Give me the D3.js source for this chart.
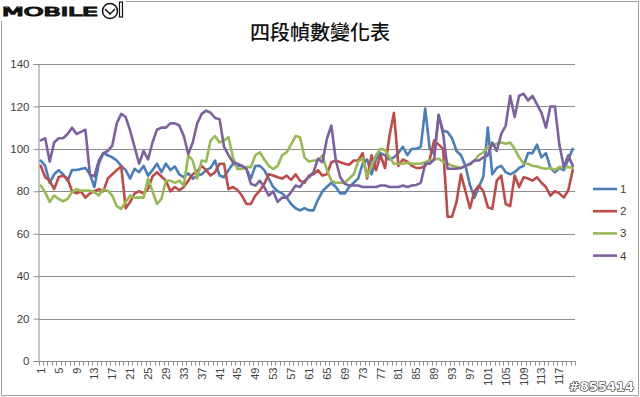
<!DOCTYPE html>
<html>
<head>
<meta charset="utf-8">
<script src="https://cdn.jsdelivr.net/npm/d3@7"></script>
<style>
body { margin: 0; background: #fff; }
svg { display: block; }
</style>
</head>
<body>
<script>
//series values, index 1..120
var series1 = [94.5,92,84,88,90,88,85,90,90,90.5,91,88,82,93,98,97,96,94.5,92,90,
  86,90.6,89,92,87.4,90,93,89,93,90,91.7,88,86.6,88.5,86,87.4,88,90,91,94.5,
  87.4,86.6,90,93,92,92,90.6,86,92,92,90,86,82,80,79,77,74,72,71,72,
  71,71,76,80,82,84,82,79,79,82,84,86,93,95,88,95,98,97,95,96,
  98,101,97,100,100,101,119,100,97.6,115.7,108.5,108,105,99,97,92,83,77,82,87,
  110,88,91,92,89,88,89,91,92,98,98,102,96,98,91,89,91,90,95,100];
var series2 = [92,86.6,85,81,86.6,87.4,86,80,79,80,77,79,80,81,80,86,88,90,91.7,72,
  75,79,80,79,81,87,89,87,85,80,82,80.5,82,85,88,89.5,92,90,87.4,89,
  93,93,81,82,80.6,78,74,74,78,80.3,83.5,88,87.4,86.6,86,87.4,85.4,88,85,84,
  87.4,88,90,87.4,88,93.7,94.5,93.7,93,92.5,94.5,94.5,98,86,97,90,97,91,106,117,
  92,95,94,92,91,91,92,95,104,102,100,68,68,75,88,80,72,80,82.7,80,
  72.5,71.7,85,87.4,74,73,87.4,82,86.6,86,85,86.6,84,82,78,80,79,77,80.5,90];
var series3 = [82.7,79.5,75,78,76.4,75.3,76.4,79.6,81,80.3,80.3,80.3,79.6,78,81,80.3,78,73,71.7,75,
  78,77,77,77,86,80,74,76.4,85,85,84,85,82.7,97,94.5,86,94.5,94,104,106,
  103,104,105.5,96,90.5,90.5,91.4,91.4,97,98.4,95,92,90.5,92,97,98.4,102,106,105.5,96,
  94,94.5,94.5,97,90,85,84,84,84,86,88,94,95.5,87,92,97,100,99.5,96,93,
  93,93,93.5,93,93,93,93.7,94.5,95,95.3,94,93,92,91.5,91,92,92.5,94.5,97,98.4,
  100.8,101.6,102.4,103,102.4,103,100,96,93,93,92,91.7,91,90.6,91,90,91.4,91.4,91.4,91];
var series4 = [104,105,94,103,105,105,107,110,107,108,109,88,87,94.5,98,99,101.5,112,116.5,115,
  108.6,100.8,93,99,95,103,109,110,110,112,112,111,106,97.6,103,112,116.5,118,117,114.6,
  114,101,97,93.7,93,92,90.6,83.5,82.7,85,82,78,80,75,77,77,79.6,82.7,82,85,
  86.6,89,95.3,93.7,104.7,111,94.5,86.6,83.5,82.7,82.7,82.7,82,82,82,82,82.7,82.7,82,82,
  82,82.7,82,82.7,83,84,93,93,95,116,107,90.6,90.6,90.6,91,92,93,94.5,94.5,96,
  97,103,99,107,111,125,115,125,126,122.8,125,121,117,110,120,120,102,91.4,97,92];
var seriesNames = ["1", "2", "3", "4"];
var seriesColors = ["#4A7EBB", "#BE4B48", "#98B954", "#7D60A0"];
var yTicks = [0, 20, 40, 60, 80, 100, 120, 140];
var titleText = "四段幀數變化表";

window.onload = drawChart();

function drawChart(){
    var width = 640,
        height = 397;

    var svg = d3.select("body")
        .append("svg")
        .attr("width", width)
        .attr("height", height)
        .style("font-family", "'Liberation Sans', Arial, sans-serif");

    //chart frame
    svg.append("rect")
        .attr("x", 1.5).attr("y", 1.5)
        .attr("width", width - 3).attr("height", height - 3)
        .attr("fill", "#fff")
        .attr("stroke", "#a0a0a0");

    var allSeries = [series1, series2, series3, series4];
    var cats = d3.range(1, series1.length + 1);

    var x = d3.scaleBand()
        .domain(cats)
        .range([38.5, 575])
        .padding(0);

    var y = d3.scaleLinear()
        .domain([0, 140])
        .range([361, 64]);

    //gridlines
    svg.selectAll(".grid")
        .data(yTicks.slice(1))
        .enter()
        .append("line")
        .attr("class", "grid")
        .attr("x1", 38.5).attr("x2", 575)
        .attr("y1", function(d){ return Math.round(y(d)) + 0.5; })
        .attr("y2", function(d){ return Math.round(y(d)) + 0.5; })
        .attr("stroke", "#8c8c8c")
        .attr("stroke-width", 1);

    //y axis
    var yAxis = svg.append("g")
        .attr("transform", "translate(38.5,0)")
        .call(d3.axisLeft(y).tickValues(yTicks).tickSize(5).tickPadding(4));
    yAxis.select(".domain").attr("stroke", "#8c8c8c");
    yAxis.selectAll(".tick line").attr("stroke", "#8c8c8c");
    yAxis.selectAll(".tick text")
        .attr("font-size", 11.5)
        .attr("fill", "#404040")
        .style("font-family", "'Liberation Sans', Arial, sans-serif");

    //x axis line
    var x0 = 361.5;
    svg.append("line")
        .attr("x1", 38.5).attr("x2", 575)
        .attr("y1", x0).attr("y2", x0)
        .attr("stroke", "#8c8c8c");

    //tick marks between categories
    var bounds = cats.map(function(d){ return x(d); }).concat([x.range()[1]]);
    svg.selectAll(".xtick")
        .data(bounds)
        .enter()
        .append("line")
        .attr("class", "xtick")
        .attr("x1", function(d){ return Math.round(d) + 0.5; })
        .attr("x2", function(d){ return Math.round(d) + 0.5; })
        .attr("y1", x0).attr("y2", x0 + 4)
        .attr("stroke", "#8c8c8c");

    //category labels, every fourth
    svg.selectAll(".xlab")
        .data(cats.filter(function(d){ return (d - 1) % 4 == 0; }))
        .enter()
        .append("text")
        .attr("class", "xlab")
        .attr("transform", function(d){
            return "translate(" + (x(d) + x.bandwidth() / 2 + 4) + "," + (x0 + 6) + ") rotate(-90)";
        })
        .attr("text-anchor", "end")
        .attr("font-size", 11)
        .attr("fill", "#404040")
        .text(function(d){ return d; });

    //series lines
    var line = d3.line()
        .x(function(d, i){ return x(cats[i]) + x.bandwidth() / 2; })
        .y(function(d){ return y(d); });

    svg.selectAll(".series")
        .data(allSeries)
        .enter()
        .append("path")
        .attr("class", "series")
        .attr("d", line)
        .attr("fill", "none")
        .attr("stroke", function(d, i){ return seriesColors[i]; })
        .attr("stroke-width", 2.6)
        .attr("stroke-linejoin", "round")
        .attr("stroke-linecap", "round");

    //legend
    var legend = svg.selectAll(".legend")
        .data(seriesNames)
        .enter()
        .append("g")
        .attr("class", "legend")
        .attr("transform", function(d, i){ return "translate(593," + (189 + i * 22.2) + ")"; });
    legend.append("line")
        .attr("x1", 0).attr("x2", 24)
        .attr("stroke", function(d, i){ return seriesColors[i]; })
        .attr("stroke-width", 2.6);
    legend.append("text")
        .attr("x", 27).attr("y", 4)
        .attr("font-size", 11.5)
        .attr("fill", "#404040")
        .text(function(d){ return d; });

    //title
    svg.append("text")
        .attr("x", 320).attr("y", 40)
        .attr("text-anchor", "middle")
        .attr("font-size", 20)
        .attr("font-weight", 500)
        .attr("fill", "#111")
        .style("font-family", "'Noto Sans CJK TC', sans-serif")
        .text(titleText);

    //site mark, top left
    var logo = svg.append("g");
    logo.append("rect")
        .attr("x", 0).attr("y", 0).attr("width", 126).attr("height", 21)
        .attr("fill", "#fff");
    logo.append("text")
        .attr("x", 2).attr("y", 16)
        .attr("font-size", 13)
        .attr("textLength", 96)
        .attr("lengthAdjust", "spacingAndGlyphs")
        .attr("fill", "#fff")
        .attr("stroke", "#111")
        .attr("stroke-width", 1.2)
        .style("font-family", "'DejaVu Sans', sans-serif")
        .text("MOBILE");
    logo.append("circle")
        .attr("cx", 110).attr("cy", 11).attr("r", 7.5)
        .attr("fill", "#fff").attr("stroke", "#111").attr("stroke-width", 1.5);
    logo.append("path")
        .attr("d", "M105,9 L110,14 L115,9")
        .attr("fill", "none").attr("stroke", "#111").attr("stroke-width", 1.5);
    logo.append("rect")
        .attr("x", 119.5).attr("y", 2).attr("width", 3).attr("height", 15)
        .attr("fill", "#fff").attr("stroke", "#111").attr("stroke-width", 1.2);

    //post number, bottom right
    svg.append("text")
        .attr("x", 634).attr("y", 391)
        .attr("text-anchor", "end")
        .attr("font-size", 13)
        .attr("font-weight", "bold")
        .attr("fill", "#fff")
        .attr("stroke", "#111")
        .attr("stroke-width", 1.1)
        .attr("paint-order", "stroke")
        .style("font-family", "'DejaVu Sans', sans-serif")
        .text("#855414");
};
</script>
</body>
</html>
